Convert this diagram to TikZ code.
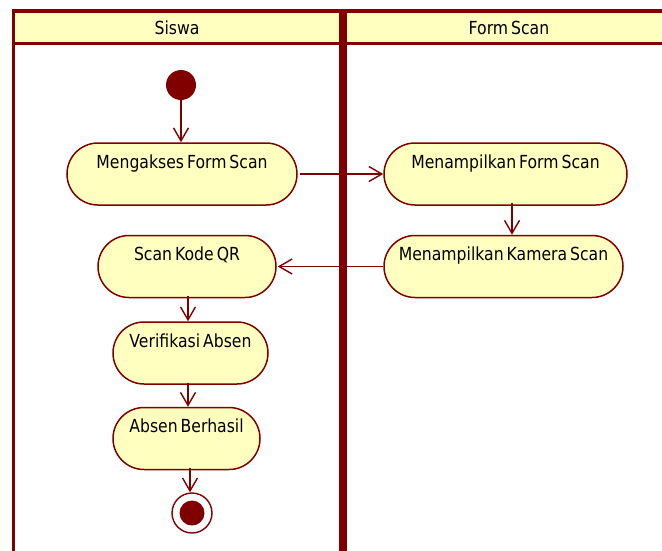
\documentclass[tikz,border=0pt]{standalone}
\usepackage{fontspec}
\setmainfont{DejaVu Sans}[FakeStretch=0.87,WordSpace=0.6]
\usetikzlibrary{arrows.meta,calc}
\definecolor{umlred}{HTML}{800000}
\definecolor{umlfill}{HTML}{FFFFC0}
\begin{document}
\begin{tikzpicture}[x=1pt,y=-1pt,
  every node/.style={font=\fontsize{18}{20}\selectfont, text=black},
  act/.style={draw=umlred, fill=umlfill, line width=1.5pt, rounded corners=31pt,
    minimum height=62pt, inner sep=0pt, text height=25pt, text depth=37pt},
  arr/.style={draw=umlred, line width=1.4pt, -{Straight Barb[length=13pt,width=15pt,line width=1.4pt]}},
  lane/.style={draw=umlred, line width=3.5pt}]
\useasboundingbox (0,0) rectangle (662,550);
% swimlane headers
\fill[umlfill] (13.5,11) rectangle (674,43.5);
\draw[lane] (13.5,560) -- (13.5,11) -- (341,11) -- (341,560);
\draw[lane] (344.8,560) -- (344.8,11) -- (674,11);
\draw[lane] (13.5,43.5) -- (341,43.5);
\draw[lane] (344.8,43.5) -- (674,43.5);
\node (hsiswa) at (177,28) {Siswa};
\node (hform) at (509,28) {Form Scan};
% initial and final
\node[circle, fill=umlred, minimum size=30pt, inner sep=0pt] (init) at (181,85) {};
\node[circle, draw=umlred, line width=1.4pt, fill=white, minimum size=40pt, inner sep=0pt] (final) at (192,513) {};
\node[circle, fill=umlred, minimum size=25pt, inner sep=0pt] (finalin) at (192,513) {};
% activities
\node[act, minimum width=230pt] (m1) at (182,174) {Mengakses Form Scan};
\node[act, minimum width=243pt] (m2) at (505.5,174) {Menampilkan Form Scan};
\node[act, minimum width=239pt] (m3) at (503.5,266.5) {Menampilkan Kamera Scan};
\node[act, minimum width=178pt] (m4) at (187,266.5) {Scan Kode QR};
\node[act, minimum width=155pt] (m5) at (190.5,353) {Verifikasi Absen};
\node[act, minimum width=147pt] (m6) at (186.5,438.5) {Absen Berhasil};
% connectors
\draw[arr] (init) -- (init |- m1.north);
\draw[arr] ([xshift=2pt]m1.east) -- (m2.west);
\draw[arr] ([xshift=6.5pt,yshift=3pt]m2.south) -- ([xshift=6.5pt]m2.south |- m3.north);
\draw[arr] (m3.west) -- ([xshift=1pt]m4.east);
\draw[arr] ([xshift=1pt,yshift=2pt]m4.south) -- ([xshift=1pt]m4.south |- m5.north);
\draw[arr] ([xshift=-2.5pt,yshift=2pt]m5.south) -- ([xshift=-2.5pt]m5.south |- m6.north);
\draw[arr] ([xshift=3.5pt,yshift=2pt]m6.south) -- ([xshift=3.5pt]m6.south |- final.north);
\end{tikzpicture}
\end{document}
